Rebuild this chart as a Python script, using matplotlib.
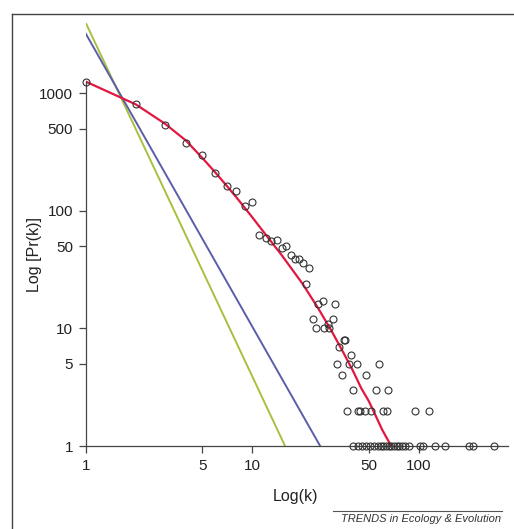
import matplotlib.pyplot as plt
from matplotlib.lines import Line2D
from matplotlib.ticker import NullLocator

plt.rcParams['font.family'] = ['Liberation Sans', 'DejaVu Sans']

# observed degree distribution (k, number of nodes with degree k)
deg_k = [1, 2, 3, 4, 5, 6, 7, 8, 9, 10,
         11, 12, 13, 14, 15, 16, 17, 18, 19, 20, 21, 22,
         23.1, 24.1, 24.9, 26.4, 27, 28.6, 29, 30.3, 31.4,
         35.3, 36, 33, 39,
         32.4, 38.1, 42.3, 57.1,
         34.4, 48.2,
         40, 55.4, 64.7,
         37.2, 42.9, 44.3, 47.5, 51.4, 60.4, 64.1, 94.7, 115,
         40.4, 42.9, 45.4, 48.2, 50.9, 54, 56.6, 58.7, 60.9, 63.2, 65.6, 68,
         70.6, 73.3, 76, 78.8, 82.5, 87.2, 101, 106, 124, 143, 198, 212, 280]
n_k = [1260, 805, 540, 380, 300, 211, 163, 149, 111, 120,
       62, 59, 56, 57, 48, 50, 42, 39, 39, 36, 24, 33,
       12, 10, 16, 17, 10, 11, 10, 12, 16,
       8, 8, 7, 6,
       5, 5, 5, 5,
       4, 4,
       3, 3, 3,
       2, 2, 2, 2, 2, 2, 2, 2, 2,
       1, 1, 1, 1, 1, 1, 1, 1, 1, 1, 1, 1,
       1, 1, 1, 1, 1, 1, 1, 1, 1, 1, 1, 1, 1]

# fitted curves
red_k = [1, 2, 3, 4, 5, 6, 7, 8, 10, 12, 15, 20, 25, 30, 35, 40, 45, 50, 55, 60, 68]
red_v = [1260, 805, 550, 396, 283, 212, 164, 131, 88, 63, 42, 24, 14.6, 9.4, 6.3, 4.4, 3.1, 2.4, 1.8, 1.38, 1]
blue_k = [1, 25.5]
blue_v = [3230, 1]
green_k = [1, 15.7]
green_v = [3990, 1]

x_ticks = [1, 5, 10, 50, 100]
y_ticks = [1, 5, 10, 50, 100, 500, 1000]

W, H = 514, 529
fig = plt.figure(figsize=(W / 100, H / 100), dpi=100)
ax = fig.add_axes([85.7 / W, 83 / H, (508.3 - 85.7) / W, (506.4 - 83) / H])
ax.set_xscale('log')
ax.set_yscale('log')
ax.set_xlim(1, 343)
ax.set_ylim(1, 4000)

ax.plot(green_k, green_v, color='#a6c13e', lw=1.4)
ax.plot(blue_k, blue_v, color='#5a5ea8', lw=1.4)
ax.plot(red_k, red_v, color='#e2173f', lw=1.6)
ax.plot(deg_k, n_k, 'o', mfc='none', mec='#333333', ms=5, mew=0.8, clip_on=False, zorder=5)

ax.set_xticks(x_ticks)
ax.set_xticklabels([str(t) for t in x_ticks])
ax.set_yticks(y_ticks)
ax.set_yticklabels([str(t) for t in y_ticks])
ax.xaxis.set_minor_locator(NullLocator())
ax.yaxis.set_minor_locator(NullLocator())
ax.tick_params(direction='out', length=5, width=0.9, labelsize=11, pad=4,
               color='#444444', labelcolor='#222222')

for s in ['top', 'right']:
    ax.spines[s].set_visible(False)
ax.spines['left'].set_bounds(1, 1260)
for s in ['left', 'bottom']:
    ax.spines[s].set_color('#444444')
    ax.spines[s].set_linewidth(0.9)

fig.text(295 / W, 1 - 496 / H, 'Log(k)', ha='center', va='center', fontsize=11.5, color='#222222')
fig.text(34 / W, 1 - 255 / H, 'Log [Pr(k)]', ha='center', va='center', rotation=90,
         fontsize=11.5, color='#222222')

# footer
fig.add_artist(Line2D([333 / W, 502 / W], [1 - 510.7 / H] * 2, color='#555555', lw=0.8))
fig.text(501 / W, 1 - 519.5 / H, 'TRENDS in Ecology & Evolution', ha='right', va='center',
         style='italic', fontsize=8, color='#333333')

# outer frame
fig.add_artist(Line2D([12 / W, 1], [1 - 14 / H] * 2, color='#444444', lw=1))
fig.add_artist(Line2D([12 / W] * 2, [0, 1 - 14 / H], color='#444444', lw=1))

fig.savefig('out.png', dpi=100)
